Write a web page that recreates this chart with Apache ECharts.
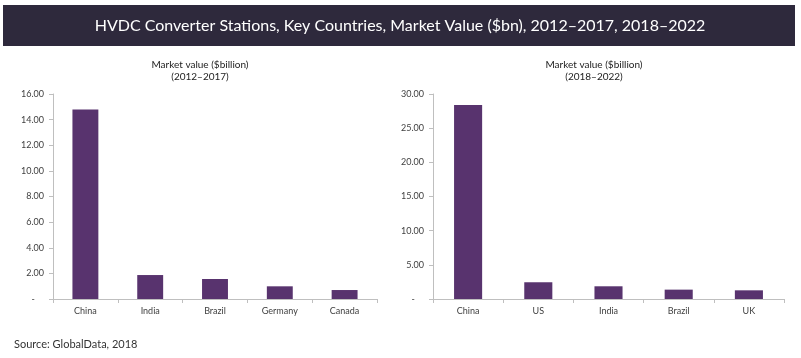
<!DOCTYPE html>
<html><head><meta charset="utf-8">
<script src="https://cdn.jsdelivr.net/npm/echarts@6/dist/echarts.min.js"></script>
<style>html,body{margin:0;padding:0;background:#fff}#c{width:801px;height:358px}</style>
</head><body><div id="c"></div>
<script>
const titleText = 'HVDC Converter Stations, Key Countries, Market Value ($bn), 2012–2017, 2018–2022';
const leftCategories = ['China', 'India', 'Brazil', 'Germany', 'Canada'];
const leftValues = [14.79, 1.87, 1.56, 0.99, 0.70];
const rightCategories = ['China', 'US', 'India', 'Brazil', 'UK'];
const rightValues = [28.4, 2.45, 1.86, 1.37, 1.27];
const leftSubtitle = 'Market value ($billion)\n(2012–2017)';
const rightSubtitle = 'Market value ($billion)\n(2018–2022)';
const sourceText = 'Source: GlobalData, 2018';

const FONT = 'Lato, "Liberation Sans", sans-serif';
const BAR = '#58336e';
const AXIS = '#bfbfbf';
const TXT = '#404040';

const chart = echarts.init(document.getElementById('c'), null, {renderer: 'canvas'});
function fmt(v){ return v === 0 ? '-    ' : v.toFixed(2); }
function yAx(idx, max, interval){
  return {gridIndex: idx, type: 'value', min: 0, max: max, interval: interval,
    axisLine: {show: true, lineStyle: {color: AXIS}},
    axisTick: {show: true, length: 4, lineStyle: {color: AXIS}},
    splitLine: {show: false},
    axisLabel: {formatter: fmt, color: TXT, fontSize: 9, fontFamily: FONT, margin: 9}};
}
function xAx(idx, cats){
  return {gridIndex: idx, type: 'category', data: cats,
    axisLine: {show: true, lineStyle: {color: AXIS}},
    axisTick: {show: true, length: 4, lineStyle: {color: AXIS}},
    axisLabel: {color: TXT, fontSize: 9, fontFamily: FONT, margin: 8}};
}
chart.setOption({
  animation: false,
  graphic: [
    {type: 'rect', shape: {x: 3, y: 5, width: 792, height: 41}, style: {fill: '#2e293c'}},
    {type: 'text', x: 400, y: 26, style: {text: titleText, fill: '#ffffff', font: '16px ' + FONT, textAlign: 'center', textVerticalAlign: 'middle'}},
    {type: 'text', x: 200, y: 71, style: {text: leftSubtitle, fill: '#222', font: '10px ' + FONT, textAlign: 'center', textVerticalAlign: 'middle', lineHeight: 12}},
    {type: 'text', x: 594, y: 71, style: {text: rightSubtitle, fill: '#222', font: '10px ' + FONT, textAlign: 'center', textVerticalAlign: 'middle', lineHeight: 12}},
    {type: 'text', x: 14, y: 344, style: {text: sourceText, fill: '#333', font: '11px ' + FONT, textAlign: 'left', textVerticalAlign: 'middle'}}
  ],
  grid: [
    {left: 53, right: 424, top: 94, bottom: 59},
    {left: 433, right: 17, top: 94, bottom: 59}
  ],
  xAxis: [xAx(0, leftCategories), xAx(1, rightCategories)],
  yAxis: [yAx(0, 16, 2), yAx(1, 30, 5)],
  series: [
    {type: 'bar', xAxisIndex: 0, yAxisIndex: 0, data: leftValues, barWidth: '40%', itemStyle: {color: BAR}},
    {type: 'bar', xAxisIndex: 1, yAxisIndex: 1, data: rightValues, barWidth: '40%', itemStyle: {color: BAR}}
  ]
});
</script></body></html>
